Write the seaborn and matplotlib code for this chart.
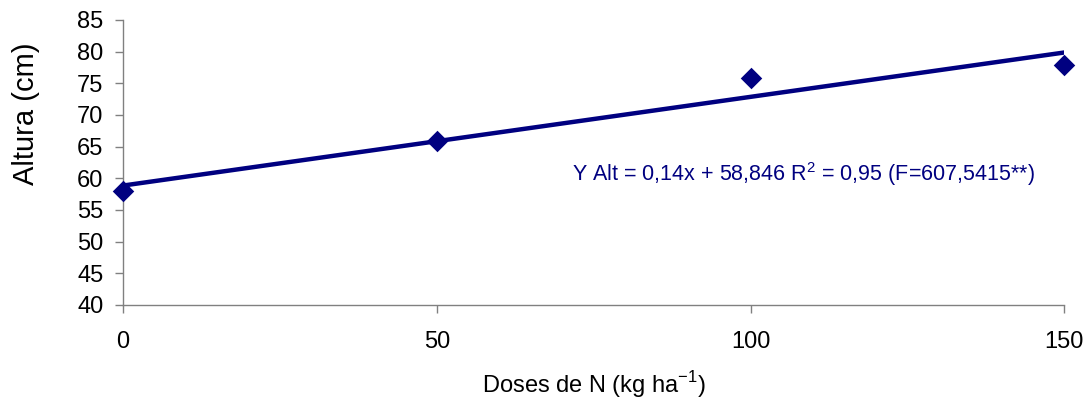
import matplotlib
matplotlib.use("Agg")
import matplotlib.pyplot as plt
import seaborn as sns
import numpy as np
import pandas as pd

# Data
doses = [0, 50, 100, 150]
altura = [58.0, 65.8, 75.8, 77.8]
slope = 0.14
intercept = 58.846
eq_text = "Y Alt = 0,14x + 58,846 R$^2$ = 0,95 (F=607,5415**)"

sns.set_theme(style="white")
plt.rcParams['font.family'] = ['Liberation Sans', 'DejaVu Sans']
plt.rcParams['mathtext.fontset'] = 'custom'
plt.rcParams['mathtext.rm'] = 'Liberation Sans'

fig = plt.figure(figsize=(10.86, 4.05), dpi=100)
ax = fig.add_axes([0.1133, 0.247, 0.8667, 0.704])

navy = "#000080"
df = pd.DataFrame({"x": doses, "y": altura})
fit_x = [min(doses), max(doses)]
fit = pd.DataFrame({"x": fit_x, "y": [intercept + slope * v for v in fit_x]})

sns.lineplot(data=fit, x="x", y="y", ax=ax, color=navy, linewidth=3.2, zorder=2)
sns.scatterplot(data=df, x="x", y="y", ax=ax, color=navy, marker="D", s=120,
                edgecolor=navy, linewidth=0, zorder=3, clip_on=False)

ax.set_xlim(0, 150)
ax.set_ylim(40, 85)
ax.set_xticks(doses)
ax.set_yticks(np.arange(40, 86, 5))
ax.tick_params(axis="both", direction="out", length=6, width=1, color="#808080",
               labelsize=17, labelcolor="black", bottom=True, left=True)
ax.tick_params(axis="x", pad=13)
ax.tick_params(axis="y", pad=8)
for s in ["top", "right"]:
    ax.spines[s].set_visible(False)
for s in ["left", "bottom"]:
    ax.spines[s].set_color("#808080")
    ax.spines[s].set_linewidth(1)

ax.set_xlabel("Doses de N (kg ha$^{-1}$)", fontsize=17, labelpad=11, color="black")
ax.set_ylabel("Altura (cm)", fontsize=21, color="black")
ax.yaxis.set_label_coords(-0.088, 0.67)

ax.text(0.477, 0.458, eq_text, transform=ax.transAxes, color=navy, fontsize=15.5,
        ha="left", va="center")

fig.savefig("out.png", dpi=100)
